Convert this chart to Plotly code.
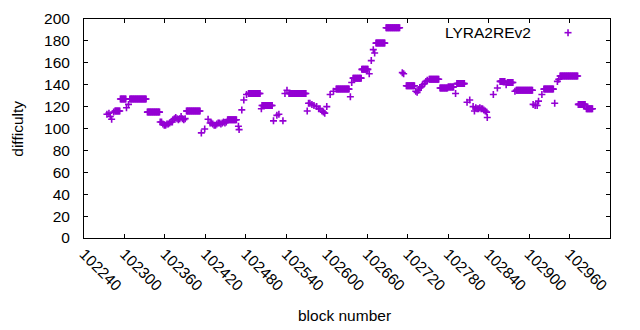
import plotly.graph_objects as go

series_name = "LYRA2REv2"

block = [
    102274, 102277, 102279, 102281, 102284,
    102286, 102287, 102288, 102289, 102290, 102291, 102292, 102293,
    102294, 102295, 102296, 102297, 102298, 102299, 102300, 102301, 102302,
    102303, 102306,
    102308, 102309, 102310, 102311, 102312, 102313, 102314, 102315, 102316, 102317, 102318, 102319, 102320,
    102321, 102322, 102323, 102324, 102325, 102326, 102327, 102328, 102329, 102330, 102331, 102332,
    102334, 102335, 102336, 102337, 102338, 102339, 102340, 102341, 102342, 102343, 102344, 102345, 102346,
    102347, 102348, 102349, 102350, 102351, 102352,
    102353, 102355, 102357, 102359, 102361, 102363, 102365, 102367, 102369, 102371,
    102372, 102374, 102376, 102378, 102380, 102382, 102384, 102386, 102388, 102390,
    102392, 102393, 102394, 102395, 102396, 102397, 102398, 102399, 102400, 102401, 102402, 102403, 102404,
    102405, 102406, 102407, 102408, 102409, 102410, 102411, 102412,
    102414, 102419, 102424,
    102427, 102429, 102431, 102433, 102435, 102437, 102439, 102441, 102443, 102445, 102447, 102449, 102451,
    102453, 102454, 102455, 102456, 102457, 102458, 102459, 102460, 102461, 102462, 102463, 102464, 102465, 102466,
    102469, 102470, 102474, 102477, 102481,
    102484, 102485, 102486, 102487, 102488, 102489, 102490, 102491, 102492, 102493, 102494, 102495, 102496,
    102497, 102498, 102499, 102500, 102501,
    102503,
    102504, 102505, 102506, 102507, 102508, 102509, 102510, 102511, 102512, 102513, 102514, 102515, 102516,
    102517, 102518, 102519,
    102521, 102526, 102529, 102535, 102538, 102541,
    102544, 102545, 102546, 102547, 102548, 102549, 102550, 102551, 102552, 102553, 102554, 102555, 102556,
    102557, 102558, 102559, 102560, 102561, 102562, 102563, 102564, 102565, 102566, 102567, 102568, 102569,
    102571, 102573, 102575, 102578, 102581, 102585, 102588, 102590, 102593, 102595, 102597, 102600, 102605, 102610,
    102614, 102615, 102616, 102617, 102618, 102619, 102620, 102621, 102622, 102623, 102624, 102625, 102626,
    102627, 102628, 102629, 102630, 102631, 102632, 102633,
    102635, 102637,
    102639, 102640, 102641, 102642, 102643, 102644, 102645, 102646, 102647, 102648, 102649, 102650, 102651,
    102652, 102653, 102654, 102655, 102656, 102657, 102658, 102659, 102660, 102661,
    102663, 102666, 102669, 102671,
    102673, 102674, 102675, 102676, 102677, 102678, 102679, 102680, 102681, 102682, 102683, 102684, 102685, 102686,
    102688, 102689, 102690, 102691, 102692, 102693, 102694, 102695, 102696, 102697, 102698, 102699, 102700,
    102701, 102702, 102703, 102704, 102705, 102706, 102707, 102708,
    102712, 102714,
    102718, 102719, 102720, 102721, 102722, 102723, 102724, 102725, 102726, 102727, 102728, 102729, 102730,
    102732, 102734, 102736, 102738, 102740, 102742, 102745, 102747, 102749,
    102752, 102753, 102754, 102755, 102756, 102757, 102758, 102759, 102760, 102761, 102762, 102763, 102764,
    102765, 102766,
    102768, 102769, 102770, 102771, 102772, 102773, 102774, 102775, 102776, 102777, 102778, 102779,
    102780, 102781, 102782, 102783, 102784, 102785, 102786, 102787, 102788,
    102791,
    102793, 102794, 102795, 102796, 102797, 102798, 102799, 102800, 102801, 102802, 102803, 102804,
    102808, 102812,
    102817, 102819, 102821, 102823, 102825, 102827, 102829, 102831, 102833, 102835, 102837, 102838,
    102847, 102853,
    102857, 102858, 102859, 102860, 102861, 102862, 102863, 102864,
    102866,
    102868, 102869, 102870, 102871, 102872, 102873, 102874, 102875, 102876,
    102879,
    102881, 102882, 102883, 102884, 102885, 102886, 102887, 102888, 102889, 102890, 102891, 102892, 102893,
    102894, 102895, 102896, 102897, 102898, 102899, 102900, 102901, 102902, 102903, 102904, 102905,
    102906, 102909, 102912, 102914, 102919,
    102922, 102923, 102924, 102925, 102926, 102927, 102928, 102929, 102930, 102931, 102932, 102933, 102934,
    102935, 102936,
    102938, 102942, 102944,
    102946, 102947, 102948, 102949, 102950, 102951, 102952, 102953, 102954, 102955, 102956, 102957, 102958,
    102959, 102960, 102961, 102962, 102963, 102964, 102965, 102966, 102967, 102968, 102969, 102970, 102971, 102972,
    102973, 102974, 102975, 102976, 102977, 102978, 102979, 102980, 102981, 102982, 102983,
    102985, 102986, 102987, 102988, 102989, 102990, 102991, 102992, 102993, 102994,
]

difficulty = [
    113, 114, 111, 108.5, 115,
    116, 116, 116, 116, 116, 116, 116, 116,
    127, 127, 127, 127, 127, 127, 127, 127, 127,
    119, 122,
    127, 127, 127, 127, 127, 127, 127, 127, 127, 127, 127, 127, 127,
    127, 127, 127, 127, 127, 127, 127, 127, 127, 127, 127, 127,
    115, 115, 115, 115, 115, 115, 115, 115, 115, 115, 115, 115, 115,
    115, 115, 115, 115, 115, 115,
    106, 106, 104, 103, 103, 104, 104, 105, 106, 106,
    108, 109, 110, 109, 108, 109, 111, 109, 108, 109,
    116, 116, 116, 116, 116, 116, 116, 116, 116, 116, 116, 116, 116,
    116, 116, 116, 116, 116, 116, 116, 116,
    96, 99.5, 108.5,
    105, 105, 104, 103, 103, 104, 105, 105, 104, 105, 106, 105, 106,
    108, 108, 108, 108, 108, 108, 108, 108, 108, 108, 108, 108, 108, 108,
    102, 99, 117, 126, 131,
    132, 132, 132, 132, 132, 132, 132, 132, 132, 132, 132, 132, 132,
    132, 132, 132, 132, 132,
    118,
    121, 121, 121, 121, 121, 121, 121, 121, 121, 121, 121, 121, 121,
    121, 121, 121,
    107, 112, 113, 107, 132, 135,
    132, 132, 132, 132, 132, 132, 132, 132, 132, 132, 132, 132, 132,
    132, 132, 132, 132, 132, 132, 132, 132, 132, 132, 132, 132, 132,
    116, 123, 123, 122, 121, 120, 118, 118, 116, 115, 114, 120, 131, 134,
    136, 136, 136, 136, 136, 136, 136, 136, 136, 136, 136, 136, 136,
    136, 136, 136, 136, 136, 136, 136,
    129, 142,
    146, 146, 146, 146, 146, 146, 146, 146, 146, 146, 146, 146, 146,
    154, 154, 154, 154, 154, 154, 154, 154, 154, 154,
    150, 162, 172, 169,
    178, 178, 178, 178, 178, 178, 178, 178, 178, 178, 178, 178, 178, 178,
    192, 192, 192, 192, 192, 192, 192, 192, 192, 192, 192, 192, 192,
    192, 192, 192, 192, 192, 192, 192, 192,
    151, 150,
    139, 139, 139, 139, 139, 139, 139, 139, 139, 139, 139, 139, 139,
    134, 133, 135, 137, 138, 140, 141, 143, 144,
    145, 145, 145, 145, 145, 145, 145, 145, 145, 145, 145, 145, 145,
    145, 145,
    137, 137, 137, 137, 137, 137, 137, 137, 137, 137, 137, 137,
    138, 138, 138, 138, 138, 138, 138, 138, 138,
    132,
    141, 141, 141, 141, 141, 141, 141, 141, 141, 141, 141, 141,
    124, 126,
    120, 116, 119, 118, 118, 119, 118, 118, 117, 116, 115, 110,
    131, 137,
    143, 143, 143, 143, 143, 143, 143, 143,
    140,
    142, 142, 142, 142, 142, 142, 142, 142, 142,
    134,
    135, 135, 135, 135, 135, 135, 135, 135, 135, 135, 135, 135, 135,
    135, 135, 135, 135, 135, 135, 135, 135, 135, 135, 135, 135,
    122, 121, 121, 125, 131,
    136, 136, 136, 136, 136, 136, 136, 136, 136, 136, 136, 136, 136,
    136, 136,
    123, 143, 145,
    148, 148, 148, 148, 148, 148, 148, 148, 148, 148, 148, 148, 148,
    148, 148, 148, 148, 148, 148, 148, 148, 148, 148, 148, 148, 148, 148,
    122, 122, 122, 122, 122, 122, 122, 122, 122, 122, 122,
    118, 118, 118, 118, 118, 118, 118, 118, 118, 118,
]

x_ticks = [102240, 102300, 102360, 102420, 102480, 102540, 102600, 102660,
           102720, 102780, 102840, 102900, 102960, 103020]
y_ticks = [0, 20, 40, 60, 80, 100, 120, 140, 160, 180, 200]

color = "#9400d3"
font = dict(family="Liberation Sans, Arial, sans-serif", size=15.5, color="black")

fig = go.Figure(go.Scatter(
    x=block, y=difficulty, mode="markers", name=series_name, showlegend=False,
    marker=dict(symbol="cross-thin", size=5, color=color,
                line=dict(width=1.6, color=color)),
    cliponaxis=False,
))

# the page body adds an 8px margin, so the figure is 8px smaller and offset
fig.update_layout(
    width=632, height=322, autosize=False,
    margin=dict(l=76, r=30, t=11, b=92, pad=0, autoexpand=False),
    plot_bgcolor="white", paper_bgcolor="white",
    font=font,
)

axis_common = dict(
    ticks="inside", ticklen=4, tickwidth=1, tickcolor="black",
    showline=True, linecolor="black", linewidth=1, mirror="ticks",
    showgrid=False, zeroline=False, tickfont=font, automargin=False,
)
fig.update_xaxes(range=[102240, 103020], tickvals=x_ticks,
                 ticktext=[str(t) for t in x_ticks], tickangle=45, **axis_common)
fig.update_yaxes(range=[0, 200], tickvals=y_ticks, ticklabelstandoff=10, **axis_common)

fig.add_annotation(text="block number", xref="paper", yref="paper", x=0.495, y=-0.354,
                   xanchor="center", yanchor="middle", showarrow=False, font=font)
fig.add_annotation(text="difficulty", xref="paper", yref="paper", x=-0.127, y=0.5,
                   xanchor="center", yanchor="middle", textangle=-90, showarrow=False, font=font)

# legend (gnuplot style: text right-justified, sample on the right)
fig.add_annotation(text=series_name, xref="paper", yref="paper", x=0.8536, y=0.9375,
                   xanchor="right", yanchor="middle", showarrow=False, font=font)
lx, ly = 0.9202, 0.9375
fig.add_shape(type="line", xref="paper", yref="paper", xsizemode="pixel", xanchor=lx,
              x0=-3.5, x1=3.5, y0=ly, y1=ly, line=dict(color=color, width=1.6))
fig.add_shape(type="line", xref="paper", yref="paper", ysizemode="pixel", yanchor=ly,
              y0=-3.5, y1=3.5, x0=lx, x1=lx, line=dict(color=color, width=1.6))

fig.write_html("out.html")
